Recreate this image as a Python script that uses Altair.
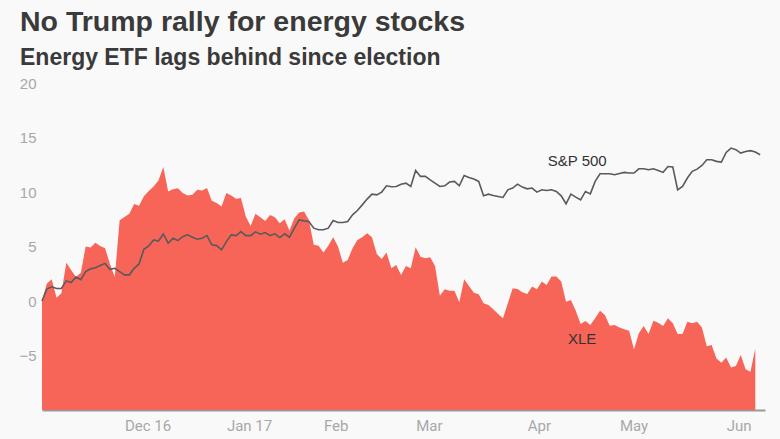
import altair as alt
import pandas as pd

# Trading-day index since the election (0 = start), percent change
xle_values = [
    0, 1.6, 2.0, 0.3, 0.7, 3.5, 2.85, 2.2, 2.6, 5.0,
    4.9, 5.35, 5.05, 4.85, 3.4, 2.2, 7.4, 7.7, 8.0, 8.9,
    8.75, 9.6, 10.1, 10.5, 11.05, 12.3, 10.05, 10.25, 10.35, 9.9,
    9.68, 9.74, 10.2, 10.14, 10.36, 9.19, 8.98, 8.67, 9.9, 9.68,
    9.38, 9.44, 7.75, 6.89, 8.0, 7.69, 7.35, 7.9, 7.69, 7.14,
    7.5, 6.46, 7.6, 8.12, 8.21, 7.44, 5.15, 5.06, 4.44, 5.06,
    5.85, 4.99, 3.52, 3.77, 4.84, 5.6, 5.85, 6.22, 5.85, 4.32,
    3.86, 4.44, 3.0, 3.31, 2.39, 3.22, 3.0, 4.93, 4.07, 3.92,
    4.01, 3.22, 0.49, 1.07, 0.95, 0.95, -0.12, 1.99, 1.38, 0.75,
    0.61, -0.21, -0.37, -0.76, -1.19, -1.59, -0.21, 1.16, 1.1, 0.8,
    0.64, 1.32, 1.07, 1.78, 1.47, 2.24, 2.24, 1.78, -0.06, 0.09,
    -0.89, -2.11, -1.84, -2.2, -1.59, -0.89, -1.29, -2.27, -2.2, -2.42,
    -2.6, -2.73, -4.44, -2.97, -2.3, -3.03, -1.81, -1.99, -2.3, -1.59,
    -2.05, -3.03, -3.03, -1.9, -2.05, -1.9, -2.42, -4.14, -4.04, -5.27,
    -5.67, -5.18, -6.09, -5.97, -4.96, -6.25, -6.5, -4.35,
]

spx_values = [
    0, 1.1, 1.3, 1.15, 1.15, 1.85, 1.7, 2.2, 1.95, 2.7,
    2.95, 3.05, 3.25, 3.45, 2.9, 3.0, 2.7, 2.4, 2.4, 3.0,
    3.4, 4.75, 5.05, 5.6, 5.5, 6.15, 5.3, 5.75, 5.55, 5.9,
    6.07, 5.85, 5.67, 5.76, 6.0, 5.15, 5.08, 4.69, 5.45, 6.07,
    6.0, 6.37, 6.0, 6.0, 6.34, 6.13, 6.28, 6.0, 6.16, 5.82,
    6.16, 5.85, 6.68, 7.44, 7.35, 7.29, 6.68, 6.53, 6.53, 6.68,
    7.38, 7.2, 7.2, 7.29, 7.9, 8.3, 8.82, 9.35, 9.8, 9.74,
    9.99, 10.57, 10.48, 10.51, 10.72, 10.81, 10.51, 11.98, 11.43, 11.43,
    11.12, 10.81, 10.51, 10.57, 10.91, 10.97, 10.57, 11.52, 11.34, 11.19,
    10.97, 9.65, 9.8, 9.68, 9.59, 9.5, 10.2, 10.36, 10.72, 10.45,
    10.29, 10.36, 9.99, 10.2, 10.14, 10.2, 10.05, 9.65, 8.92, 9.8,
    9.53, 9.28, 10.05, 9.83, 10.97, 11.67, 11.67, 11.67, 11.58, 11.7,
    11.8, 11.74, 11.74, 12.13, 12.13, 12.04, 12.13, 11.98, 11.8, 12.34,
    12.29, 10.2, 10.51, 11.28, 11.89, 12.1, 12.44, 12.96, 12.96, 12.81,
    12.75, 13.63, 14.03, 13.88, 13.57, 13.72, 13.79, 13.66, 13.42,
]

tick_positions = [17, 38, 58, 77, 100, 119, 141]
tick_labels = ["Dec 16", "Jan 17", "Feb", "Mar", "Apr", "May", "Jun"]
y_ticks = [-5, 0, 5, 10, 15, 20]

label_texts = ["S&P 500", "XLE"]
label_x = [110.3, 111.3]
label_y = [12.87, -3.5]

Y_MIN, Y_MAX = -10, 20
X_MAX = 149

xle_df = pd.DataFrame({"idx": list(range(len(xle_values))), "value": xle_values})
spx_df = pd.DataFrame({"idx": list(range(len(spx_values))), "value": spx_values})
lab_df = pd.DataFrame({"idx": label_x, "value": label_y, "text": label_texts})

label_expr = ""
for p, t in zip(tick_positions, tick_labels):
    label_expr += f"datum.value == {p} ? '{t}' : "
label_expr += "''"

x_scale = alt.Scale(domain=[0, X_MAX], nice=False, zero=False)
y_scale = alt.Scale(domain=[Y_MIN, Y_MAX], nice=False)

x_axis = alt.Axis(
    values=tick_positions, labelExpr=label_expr, title=None, grid=False,
    ticks=False, domain=True, domainColor="#9a9a9a", domainWidth=2,
    labelAlign="left", labelPadding=8, labelColor="#a8a8a8", labelFontSize=15,
    labelFont="Liberation Sans Narrow, Roboto", labelFlush=False,
)
y_axis = alt.Axis(
    values=y_ticks, title=None, grid=False, ticks=False, domain=False,
    labelPadding=6, labelColor="#a8a8a8", labelFontSize=15,
    labelFont="Liberation Sans",
)

area = alt.Chart(xle_df).mark_area(color="#f66558", opacity=1).encode(
    x=alt.X("idx:Q", scale=x_scale, axis=x_axis),
    y=alt.Y("value:Q", scale=y_scale, axis=y_axis),
    y2=alt.datum(Y_MIN),
)

line = alt.Chart(spx_df).mark_line(color="#5a5a5a", strokeWidth=1.6).encode(
    x=alt.X("idx:Q", scale=x_scale),
    y=alt.Y("value:Q", scale=y_scale),
)

labels = alt.Chart(lab_df).mark_text(
    font="Liberation Sans", fontSize=15, color="#333333", align="center", baseline="middle"
).encode(
    x=alt.X("idx:Q", scale=x_scale),
    y=alt.Y("value:Q", scale=y_scale),
    text="text:N",
)

chart = alt.layer(area, line, labels).properties(
    width=723,
    height=327,
    autosize=alt.AutoSizeParams(type="none"),
    padding={"left": 42, "top": 83, "right": 15, "bottom": 29},
    background="#f9f9f9",
    title=alt.TitleParams(
        text="No Trump rally for energy stocks",
        subtitle="Energy ETF lags behind since election",
        anchor="start",
        frame="group",
        dx=-22,
        offset=6,
        font="Liberation Sans",
        fontSize=28.5,
        fontWeight="bold",
        color="#3a3a3a",
        subtitleFont="Liberation Sans",
        subtitleFontSize=23,
        subtitleFontWeight="bold",
        subtitleColor="#3a3a3a",
        subtitlePadding=11,
    ),
).configure_view(stroke=None)

chart.save("out.html", embed_options={"renderer": "svg", "actions": False})
